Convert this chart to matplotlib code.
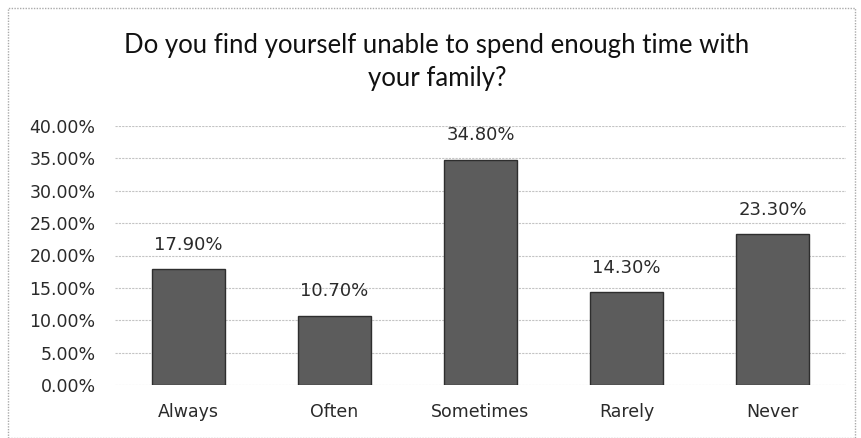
import matplotlib
matplotlib.use("Agg")
import matplotlib.pyplot as plt
from matplotlib.patches import Rectangle
from matplotlib.ticker import FuncFormatter, MultipleLocator

categories = ["Always", "Often", "Sometimes", "Rarely", "Never"]
values = [17.9, 10.7, 34.8, 14.3, 23.3]
title = "Do you find yourself unable to spend enough time with\nyour family?"

fig = plt.figure(figsize=(8.62, 4.38), dpi=100)
fig.patch.set_facecolor("white")

# outer chart-area border
fig.add_artist(Rectangle((8 / 862, 0.0), 847 / 862, 1 - 8 / 438, transform=fig.transFigure,
                         fill=False, edgecolor="#aaaaaa", linewidth=1.0, linestyle=(0, (1, 1))))

ax = fig.add_axes([115 / 862, 1 - 385 / 438, (846 - 115) / 862, (385 - 126) / 438])
x = range(len(categories))
bars = ax.bar(x, values, width=0.5, color="#5c5c5c", edgecolor="#2e2e2e", linewidth=1.0, zorder=3)

ax.set_ylim(0, 40)
ax.set_xlim(-0.5, len(categories) - 0.5)
ax.yaxis.set_major_locator(MultipleLocator(5))
ax.yaxis.set_major_formatter(FuncFormatter(lambda v, p: f"{v:.2f}%"))
ax.set_xticks(list(x))
ax.set_xticklabels(categories)
ax.grid(axis="y", color="#c4c4c4", linewidth=0.8, linestyle=(0, (2, 1)), zorder=0)
for s in ax.spines.values():
    s.set_visible(False)
ax.tick_params(axis="both", length=0, labelsize=12.5, colors="#2a2a2a")
ax.tick_params(axis="y", pad=14)
ax.tick_params(axis="x", pad=13)
for lab in ax.get_yticklabels() + ax.get_xticklabels():
    lab.set_fontfamily("DejaVu Sans")

for xi, v in zip(x, values):
    ax.annotate(f"{v:.2f}%", (xi, v), xytext=(0, 11), textcoords="offset points",
                ha="center", va="bottom", fontsize=13, color="#2a2a2a", family="DejaVu Sans")

fig.text(437 / 862, 1 - 62 / 438, title, ha="center", va="center", fontsize=18.5,
         family="Lato", color="#111111", linespacing=1.38)

fig.savefig("out.png", dpi=100)
